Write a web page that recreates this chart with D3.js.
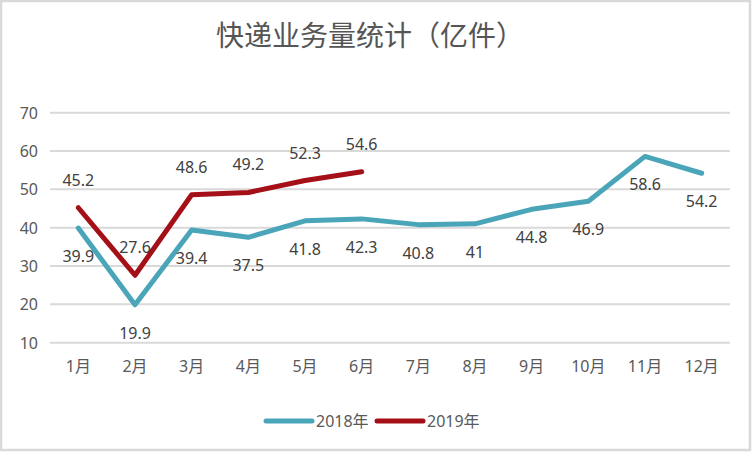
<!DOCTYPE html>
<html>
<head>
<meta charset="utf-8">
<script src="https://cdn.jsdelivr.net/npm/d3@7/dist/d3.min.js"></script>
<style>
  body { margin: 0; background: #fff; }
  svg text { font-family: "Noto Sans", "Noto Sans CJK SC", sans-serif; }
</style>
</head>
<body>
<div id="container"></div>
<script>
const months = ["1月", "2月", "3月", "4月", "5月", "6月", "7月", "8月", "9月", "10月", "11月", "12月"];
const values2018 = [39.9, 19.9, 39.4, 37.5, 41.8, 42.3, 40.8, 41, 44.8, 46.9, 58.6, 54.2];
const values2019 = [45.2, 27.6, 48.6, 49.2, 52.3, 54.6];
const yTicks = [10, 20, 30, 40, 50, 60, 70];

const series = [
  { name: "2018年", values: values2018, color: "#4ba5b9", labelDy: 28 },
  { name: "2019年", values: values2019, color: "#a50f17", labelDy: -28 },
];

const width = 752, height = 452;

const svg = d3
  .select("#container")
  .append("svg")
  .attr("width", width)
  .attr("height", height);

// frame
svg.append("rect")
  .attr("x", 1).attr("y", 1)
  .attr("width", width - 3).attr("height", height - 3)
  .attr("fill", "#fff")
  .attr("stroke", "#d9d9d9")
  .attr("stroke-width", 2.5);

svg.append("text")
  .attr("x", 370)
  .attr("y", 34)
  .attr("text-anchor", "middle")
  .attr("dominant-baseline", "central")
  .style("font-family", '"Noto Sans CJK SC"')
  .style("font-size", "28px")
  .attr("fill", "#555")
  .text("快递业务量统计（亿件）");

const x = d3.scaleBand().domain(months).range([50, 730]);
const y = d3.scaleLinear().domain([10, 70]).range([342.7, 112.7]);

// gridlines
svg.selectAll(".grid")
  .data(yTicks)
  .enter()
  .append("line")
  .attr("x1", 50)
  .attr("x2", 730)
  .attr("y1", (d) => y(d))
  .attr("y2", (d) => y(d))
  .attr("stroke", "#d9d9d9")
  .attr("stroke-width", 2);

svg.selectAll(".ytick")
  .data(yTicks)
  .enter()
  .append("text")
  .attr("x", 38)
  .attr("y", (d) => y(d))
  .attr("text-anchor", "end")
  .attr("dominant-baseline", "central")
  .style("font-size", "16px")
  .attr("fill", "#595959")
  .text((d) => d);

svg.selectAll(".xtick")
  .data(months)
  .enter()
  .append("text")
  .attr("x", (d) => x(d) + x.bandwidth() / 2)
  .attr("y", 366)
  .attr("text-anchor", "middle")
  .attr("dominant-baseline", "central")
  .style("font-size", "16px")
  .style("font-family", '"Noto Sans", "Noto Sans CJK SC"')
  .attr("fill", "#595959")
  .text((d) => d);

const line = d3
  .line()
  .x((d, i) => x(months[i]) + x.bandwidth() / 2)
  .y((d) => y(d));

series.forEach((s) => {
  svg.append("path")
    .attr("d", line(s.values))
    .attr("fill", "none")
    .attr("stroke", s.color)
    .attr("stroke-width", 5)
    .attr("stroke-linejoin", "round")
    .attr("stroke-linecap", "round");
});

series.forEach((s) => {
  svg.selectAll(null)
    .data(s.values)
    .enter()
    .append("text")
    .attr("x", (d, i) => x(months[i]) + x.bandwidth() / 2)
    .attr("y", (d) => y(d) + s.labelDy)
    .attr("text-anchor", "middle")
    .attr("dominant-baseline", "central")
    .style("font-size", "16px")
    .attr("fill", "#404040")
    .text((d) => d);
});

// legend
const legendX = [266, 377];
series.forEach((s, i) => {
  const g = svg.append("g").attr("transform", `translate(${legendX[i]},421)`);
  g.append("line")
    .attr("x1", 0).attr("x2", 46)
    .attr("stroke", s.color)
    .attr("stroke-width", 5)
    .attr("stroke-linecap", "round");
  g.append("text")
    .attr("x", 50)
    .attr("dominant-baseline", "central")
    .style("font-size", "16px")
    .style("font-family", '"Noto Sans", "Noto Sans CJK SC"')
    .attr("fill", "#595959")
    .text(s.name);
});
</script>
</body>
</html>
